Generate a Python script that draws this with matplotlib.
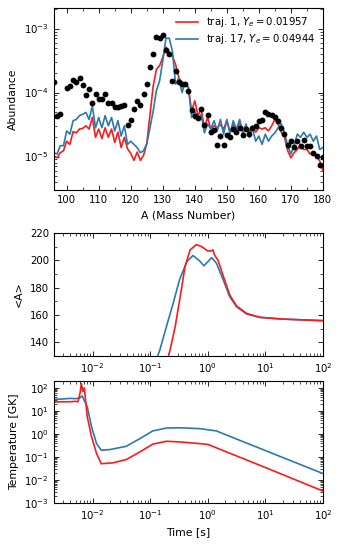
######################################
# Abundance pattern, <A> and temperature
# for two trajectories
######################################

import numpy as np

import matplotlib as mpl
mpl.use('Agg')
import matplotlib.pyplot as plt
import matplotlib.ticker as mticker


################
# Data
################

# mass number for the two trajectories
mass = np.arange(96, 181)

# log10 abundance, traj. 1
logY_t1 = [-4.99, -5.02, -4.94, -4.91, -4.76, -4.81, -4.61, -4.63, -4.57, -4.56,
           -4.52, -4.57, -4.39, -4.70, -4.57, -4.72, -4.55, -4.70, -4.57, -4.78,
           -4.62, -4.86, -4.70, -4.88, -4.95, -5.06, -4.93, -5.06, -4.98, -4.80,
           -4.35, -3.90, -3.64, -3.58, -3.45, -3.29, -3.37, -3.43, -3.56, -3.77,
           -3.84, -3.87, -3.92, -4.29, -4.13, -4.36, -4.26, -4.55, -4.39, -4.57,
           -4.52, -4.55, -4.50, -4.57, -4.44, -4.62, -4.50, -4.62, -4.47, -4.57,
           -4.52, -4.62, -4.52, -4.62, -4.55, -4.57, -4.55, -4.60, -4.52, -4.42,
           -4.50, -4.62, -4.70, -4.91, -5.02, -4.94, -4.89, -4.81, -4.89, -4.89,
           -4.96, -4.94, -4.99, -5.07, -5.22]

# log10 abundance, traj. 17
logY_t17 = [-4.94, -4.96, -4.83, -4.83, -4.60, -4.65, -4.44, -4.42, -4.36, -4.34,
            -4.31, -4.42, -4.21, -4.55, -4.39, -4.55, -4.36, -4.52, -4.39, -4.60,
            -4.44, -4.68, -4.52, -4.81, -4.76, -4.81, -4.86, -4.94, -4.91, -4.80,
            -4.55, -4.29, -3.97, -3.82, -3.50, -3.15, -3.15, -3.35, -3.87, -3.77,
            -4.00, -3.84, -3.92, -4.39, -4.29, -4.42, -4.34, -4.63, -4.49, -4.57,
            -4.44, -4.60, -4.42, -4.65, -4.42, -4.65, -4.44, -4.57, -4.42, -4.65,
            -4.49, -4.70, -4.55, -4.76, -4.68, -4.81, -4.65, -4.76, -4.68, -4.63,
            -4.55, -4.49, -4.63, -4.83, -4.96, -4.83, -4.65, -4.70, -4.62, -4.70,
            -4.65, -4.76, -4.68, -4.89, -4.86]

# solar r-process (black dots)
mass_sol = [96, 97, 98, 100, 101, 102, 103, 104, 105, 106, 107, 108, 109, 110,
            111, 112, 113, 114, 115, 116, 117, 118, 119, 120, 121, 122, 123, 124,
            125, 126, 127, 128, 129, 130, 131, 132, 133, 134, 135, 136, 137, 138,
            139, 140, 141, 142, 143, 144, 145, 146, 147, 148, 149, 150, 151, 152,
            153, 154, 155, 156, 157, 158, 159, 160, 161, 162, 163, 164, 165, 166,
            167, 168, 169, 170, 171, 172, 173, 174, 175, 176, 177, 178, 179, 180]
logY_sol = [-3.83, -4.36, -4.34, -3.93, -3.90, -3.80, -3.84, -3.78, -3.885, -4.04,
            -3.94, -4.16, -4.02, -4.10, -4.10, -4.03, -4.17, -4.17, -4.23, -4.23,
            -4.21, -4.19, -4.51, -4.43, -4.26, -4.13, -4.20, -4.03, -3.87, -3.60,
            -3.39, -3.13, -3.15, -3.10, -3.34, -3.40, -3.82, -3.67, -3.83, -3.86,
            -3.86, -3.97, -4.275, -4.36, -4.39, -4.25, -4.50, -4.35, -4.62, -4.58,
            -4.82, -4.68, -4.82, -4.66, -4.70, -4.57, -4.62, -4.55, -4.67, -4.57,
            -4.65, -4.55, -4.53, -4.44, -4.43, -4.30, -4.33, -4.35, -4.38, -4.44,
            -4.56, -4.65, -4.82, -4.75, -4.85, -4.75, -4.83, -4.74, -4.83, -4.83,
            -4.95, -4.99, -5.14, -5.01]

# <A> evolution
tA_t1 = [0.18, 0.22, 0.27, 0.33, 0.40, 0.49, 0.63, 0.78, 1.0, 1.15, 1.23, 1.30,
         1.5, 1.85, 2.4, 3.15, 4.7, 8.0, 20.0, 100.0]
Abar_t1 = [120, 134.4, 151.5, 173.4, 195.3, 207.6, 211.5, 210, 206.8, 207, 207.6,
           204, 200, 188.5, 174.6, 166.6, 161.2, 158.3, 157, 155.8]
tA_t17 = [0.10, 0.146, 0.19, 0.25, 0.32, 0.43, 0.55, 0.72, 0.85, 1.0, 1.16, 1.41,
          1.85, 2.4, 3.15, 4.7, 8.0, 20.0, 100.0]
Abar_t17 = [115, 134.4, 151.5, 168.8, 185.6, 199, 203.5, 199.5, 196, 199, 202,
            197.8, 185.6, 173.4, 166, 160.7, 158.3, 157, 155.9]

# temperature evolution [GK]
tT_t1 = [2.1e-3, 3e-3, 4e-3, 5e-3, 5.5e-3, 6.0e-3, 6.3e-3, 6.7e-3, 7.1e-3, 8e-3,
         9.5e-3, 0.0116, 0.014, 0.022, 0.038, 0.066, 0.11, 0.19, 0.32, 0.72, 1.0,
         10.5, 100.0]
T_t1 = [24.5, 25, 25, 26, 25, 60, 155, 70, 100, 5.5, 0.74, 0.14, 0.051, 0.055,
        0.077, 0.166, 0.36, 0.48, 0.45, 0.38, 0.35, 0.033, 0.0033]
tT_t17 = [2.1e-3, 3e-3, 4e-3, 5e-3, 5.9e-3, 6.5e-3, 7e-3, 8e-3, 9.5e-3, 0.0116,
          0.014, 0.02, 0.038, 0.066, 0.11, 0.19, 0.32, 0.72, 1.4, 10.5, 100.0]
T_t17 = [31.6, 33, 35, 34, 36, 45, 30, 15, 2.0, 0.38, 0.195, 0.21, 0.29, 0.63,
         1.35, 1.8, 1.85, 1.7, 1.35, 0.18, 0.019]

labels = [r'traj. 1, $Y_e = 0.01957$', r'traj. 17, $Y_e = 0.04944$']

c_red  = '#ff1a1a'
c_blue = '#2a7ab0'

mpl.rcParams.update({'font.size': 7, 'xtick.direction': 'in',
                     'ytick.direction': 'in', 'xtick.top': True,
                     'ytick.right': True, 'xtick.minor.visible': True,
                     'ytick.minor.visible': True})


def axis_format(ax):
    ax.tick_params(which='both', labelsize=7.3, top=True, right=True)
    ax.tick_params(which='major', length=3.5, width=0.6)
    ax.tick_params(which='minor', length=2, width=0.5)
    for s in ax.spines.values():
        s.set_linewidth(0.8)


fig = plt.figure(figsize=(3.41, 5.45), dpi=100)

#################################################
# Abundance pattern
ax1 = fig.add_axes([0.158, 0.6514, 0.789, 0.334])
axis_format(ax1)

ax1.semilogy(mass, 10**np.array(logY_t1), '-', color=c_red, lw=1.2, label=labels[0])
ax1.semilogy(mass, 10**np.array(logY_t17), '-', color=c_blue, lw=1.2, label=labels[1])
ax1.semilogy(mass_sol, 10**np.array(logY_sol), 'o', color='k', ms=4.2, mec='none')

ax1.set_xlim(96, 180)
ax1.set_ylim(3e-6, 2.1e-3)
ax1.xaxis.set_major_locator(mticker.MultipleLocator(10))
ax1.xaxis.set_minor_locator(mticker.MultipleLocator(5))
ax1.set_xlabel('A (Mass Number)', fontsize=7.8)
ax1.set_ylabel('Abundance', fontsize=7.8)
ax1.legend(loc='upper right', frameon=False, fontsize=7.3, handlelength=2.2,
           borderaxespad=0.3, labelspacing=0.3)

#################################################
# <A>
ax2 = fig.add_axes([0.158, 0.3468, 0.789, 0.2257])
axis_format(ax2)

ax2.semilogx(tA_t17, Abar_t17, '-', color=c_blue, lw=1.2)
ax2.semilogx(tA_t1, Abar_t1, '-', color=c_red, lw=1.2)

ax2.set_xlim(2.1e-3, 100)
ax2.set_ylim(130, 220)
ax2.yaxis.set_major_locator(mticker.MultipleLocator(20))
ax2.yaxis.set_minor_locator(mticker.MultipleLocator(10))
ax2.set_ylabel('<A>', fontsize=7.8)

#################################################
# Temperature
ax3 = fig.add_axes([0.158, 0.0771, 0.789, 0.2239])
axis_format(ax3)

ax3.loglog(tT_t17, T_t17, '-', color=c_blue, lw=1.2)
ax3.loglog(tT_t1, T_t1, '-', color=c_red, lw=1.2)

ax3.set_xlim(2.1e-3, 100)
ax3.set_ylim(1e-3, 200)
ax3.yaxis.set_major_locator(mticker.LogLocator(base=10, numticks=10))
ax3.yaxis.set_minor_locator(mticker.LogLocator(base=10, subs=np.arange(2, 10), numticks=10))
ax3.set_xlabel('Time [s]', fontsize=7.8)
ax3.set_ylabel('Temperature [GK]', fontsize=7.8)

plt.savefig('out.png', dpi=100)
